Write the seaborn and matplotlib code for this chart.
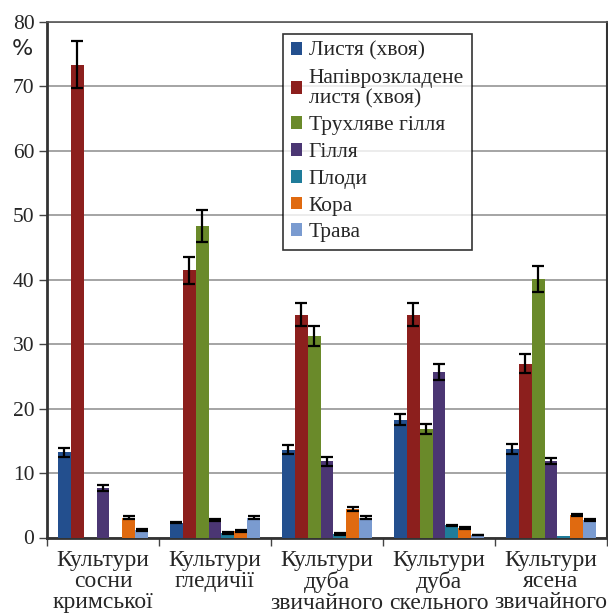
import matplotlib
matplotlib.use("Agg")
import matplotlib.pyplot as plt
import seaborn as sns
import pandas as pd
import numpy as np

# Plantation types (x categories)
categories = [
    "Культури\nсосни\nкримської",
    "Культури\nгледичії",
    "Культури\nдуба\nзвичайного",
    "Культури\nдуба\nскельного",
    "Культури\nясена\nзвичайного",
]

# Litter fractions (hue levels)
fractions = [
    "Листя (хвоя)",
    "Напіврозкладене\nлистя (хвоя)",
    "Трухляве гілля",
    "Гілля",
    "Плоди",
    "Кора",
    "Трава",
]

# Share of each fraction, %, per plantation type (rows follow `fractions`)
leaves = [13.2, 2.3, 13.6, 18.3, 13.7]
half_decomposed = [73.4, 41.5, 34.6, 34.6, 27.0]
rotten_branches = [0.0, 48.3, 31.3, 16.8, 40.1]
branches = [7.7, 2.7, 11.8, 25.7, 11.9]
fruits = [0.0, 0.7, 0.5, 1.9, 0.2]
bark = [3.1, 1.0, 4.4, 1.5, 3.5]
grass = [1.1, 3.1, 3.1, 0.4, 2.7]

# Error bar half-widths, %
leaves_err = [0.7, 0.1, 0.7, 0.9, 0.75]
half_decomposed_err = [3.7, 2.1, 1.8, 1.8, 1.4]
rotten_branches_err = [0.0, 2.45, 1.6, 0.8, 2.0]
branches_err = [0.45, 0.2, 0.65, 1.3, 0.5]
fruits_err = [0.0, 0.15, 0.15, 0.1, 0.0]
bark_err = [0.3, 0.15, 0.3, 0.15, 0.2]
grass_err = [0.15, 0.2, 0.25, 0.05, 0.15]

y_ticks = [0, 10, 20, 30, 40, 50, 60, 70, 80]

values = [leaves, half_decomposed, rotten_branches, branches, fruits, bark, grass]
errors = [leaves_err, half_decomposed_err, rotten_branches_err, branches_err,
          fruits_err, bark_err, grass_err]

colors = ["#234f8e", "#8c1f1d", "#6a8a2a", "#4b3673", "#1f7c9a", "#e06a10", "#7a9bd0"]

rows = []
for frac, vals in zip(fractions, values):
    for cat, v in zip(categories, vals):
        rows.append({"category": cat, "fraction": frac, "value": v})
df = pd.DataFrame(rows)

sns.set_style("white")
plt.rcParams["font.family"] = ["Liberation Serif", "DejaVu Serif"]

fig = plt.figure(figsize=(6.08, 6.14), dpi=100)
ax = fig.add_axes([47 / 608, 1 - 537.5 / 614, 560 / 608, (537.5 - 22) / 614])

sns.barplot(data=df, x="category", y="value", hue="fraction",
            order=categories, hue_order=fractions, palette=colors,
            width=0.81, gap=0, saturation=1, errorbar=None, ax=ax,
            edgecolor="none", linewidth=0, zorder=3)

# Error bars centred on each bar
for cont, errs in zip(ax.containers, errors):
    for bar, e in zip(cont, errs):
        if e <= 0:
            continue
        cx = bar.get_x() + bar.get_width() / 2
        ax.errorbar(cx, bar.get_height(), yerr=e, fmt="none", ecolor="black",
                    elinewidth=1.6, capsize=4, capthick=1.6, zorder=4)

ax.set_ylim(0, 80)
ax.set_xlim(-0.5, len(categories) - 0.5)
ax.set_yticks(y_ticks)
ax.set_yticklabels([str(t) for t in y_ticks], fontsize=15.5)
ax.yaxis.grid(True, color="#8c8c8c", linewidth=1.1, zorder=0)
ax.set_axisbelow(True)

# Category ticks sit between the groups
ax.set_xticks(np.arange(len(categories) + 1) - 0.5, minor=True)
ax.tick_params(axis="x", which="minor", length=6, width=1, color="#444444",
               direction="out", bottom=True)
ax.tick_params(axis="x", which="major", length=0, labelsize=17, pad=9)
ax.tick_params(axis="y", which="major", length=6, width=1, color="#444444",
               direction="out", left=True, pad=3)
for lbl in ax.get_xticklabels():
    lbl.set_linespacing(1.0)
ax.set_xlabel("")
ax.set_ylabel("")

for side in ["left", "bottom"]:
    ax.spines[side].set_color("#333333")
    ax.spines[side].set_linewidth(2)
ax.spines["top"].set_color("#555555")
ax.spines["top"].set_linewidth(1.2)
ax.spines["right"].set_color("#333333")
ax.spines["right"].set_linewidth(1.5)

fig.text(22 / 608, 1 - 49 / 614, "%", fontsize=16, ha="center", va="center",
         family=["DejaVu Sans"])

leg = ax.legend(loc="upper left", bbox_to_anchor=((283 - 47) / 560, 1 - (34 - 22) / 515.5),
                fontsize=15.5, frameon=True, fancybox=False, edgecolor="black",
                handlelength=0.55, handleheight=0.55, handletextpad=0.3,
                labelspacing=0.36, borderpad=0.35, borderaxespad=0)
leg.get_frame().set_linewidth(1.2)
for t in leg.get_texts():
    t.set_linespacing(1.1)

fig.savefig("out.png", dpi=100, facecolor="white")
